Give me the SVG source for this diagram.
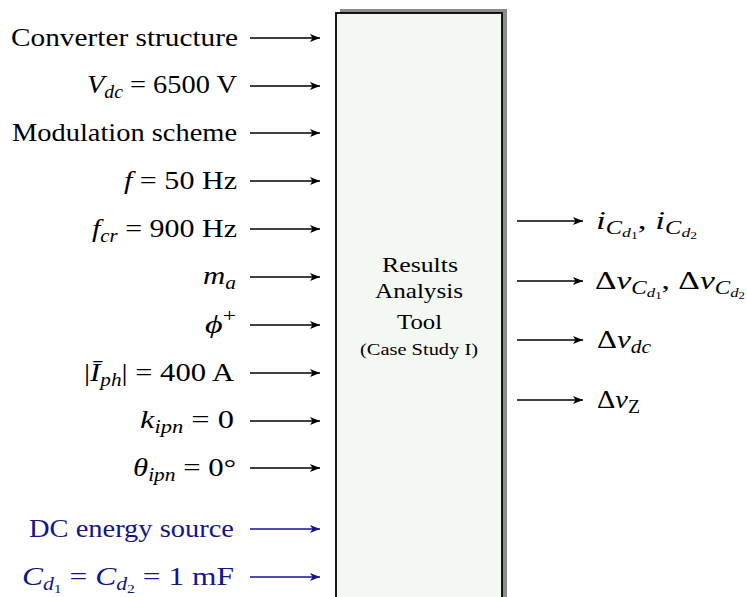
<svg xmlns="http://www.w3.org/2000/svg" width="747" height="597" viewBox="0 0 747 597">
<defs>
<marker id="ahk" viewBox="0 0 10 8" refX="10" refY="4" markerWidth="10" markerHeight="8" markerUnits="userSpaceOnUse" orient="auto">
<path d="M0,0 L10,4 L0,8 L2.5,4 Z" fill="#000"/>
</marker>
<marker id="ahb" viewBox="0 0 10 8" refX="10" refY="4" markerWidth="10" markerHeight="8" markerUnits="userSpaceOnUse" orient="auto">
<path d="M0,0 L10,4 L0,8 L2.5,4 Z" fill="#14148c"/>
</marker>
</defs>
<style>
text{font-family:"Liberation Serif","Times New Roman",serif;font-size:26px;fill:#000}
.blue{fill:#14148c}
.it{font-style:italic}
.s{font-size:18px}
.ss{font-size:13px}
.sss{font-size:10px}
.box{font-size:22px}
.small{font-size:16px}
.k{stroke:#000;stroke-width:1.5;fill:none;marker-end:url(#ahk)}
.b{stroke:#14148c;stroke-width:1.5;fill:none;marker-end:url(#ahb)}
</style>
<rect width="747" height="597" fill="#fff"/>

<g id="tool">
<rect x="340" y="9" width="167" height="600" fill="#8c8c8c"/>
<rect x="336" y="13" width="166" height="600" fill="#f3f8f2" stroke="#000" stroke-width="1.8"/>
<text class="box" x="382" y="272" textLength="76" lengthAdjust="spacingAndGlyphs">Results</text>
<text class="box" x="375" y="298" textLength="88" lengthAdjust="spacingAndGlyphs">Analysis</text>
<text class="box" x="397" y="329" textLength="45" lengthAdjust="spacingAndGlyphs">Tool</text>
<text class="small" x="360" y="355" textLength="118" lengthAdjust="spacingAndGlyphs">(Case Study I)</text>
</g>

<g id="connectors">
<path class="k" d="M250,38 H320"/>
<path class="k" d="M250,86 H320"/>
<path class="k" d="M250,133 H320"/>
<path class="k" d="M250,181 H320"/>
<path class="k" d="M250,229 H320"/>
<path class="k" d="M250,277 H320"/>
<path class="k" d="M250,325 H320"/>
<path class="k" d="M250,373 H320"/>
<path class="k" d="M250,421 H320"/>
<path class="k" d="M250,468 H320"/>
<path class="b" d="M250,529 H320"/>
<path class="b" d="M250,577 H320"/>
<path class="k" d="M517,221 H583"/>
<path class="k" d="M517,281 H583"/>
<path class="k" d="M517,340 H583"/>
<path class="k" d="M517,400 H583"/>
</g>

<g id="in-structure"><text x="11" y="46" textLength="227" lengthAdjust="spacingAndGlyphs">Converter structure</text></g>
<g id="in-vdc"><text x="87" y="93" textLength="150" lengthAdjust="spacingAndGlyphs"><tspan class="it">V</tspan><tspan class="s it" dy="5">dc</tspan><tspan dy="-5"> = 6500 V</tspan></text></g>
<g id="in-mod"><text x="12" y="141" textLength="225" lengthAdjust="spacingAndGlyphs">Modulation scheme</text></g>
<g id="in-f"><text x="124" y="189" textLength="113" lengthAdjust="spacingAndGlyphs"><tspan class="it">f</tspan> = 50 Hz</text></g>
<g id="in-fcr"><text x="92" y="237" textLength="145" lengthAdjust="spacingAndGlyphs"><tspan class="it">f</tspan><tspan class="s it" dy="5">cr</tspan><tspan dy="-5"> = 900 Hz</tspan></text></g>
<g id="in-ma"><text x="203" y="284" textLength="33" lengthAdjust="spacingAndGlyphs"><tspan class="it">m</tspan><tspan class="s it" dy="5">a</tspan></text></g>
<g id="in-phi"><text x="205" y="333" textLength="31" lengthAdjust="spacingAndGlyphs"><tspan class="it">ϕ</tspan><tspan class="s" dy="-11">+</tspan></text></g>
<g id="in-iph"><text x="84" y="381" textLength="150" lengthAdjust="spacingAndGlyphs">|<tspan class="it">Ī</tspan><tspan class="s it" dy="5">ph</tspan><tspan dy="-5">| = 400 A</tspan></text></g>
<g id="in-kipn"><text x="140" y="428" textLength="94" lengthAdjust="spacingAndGlyphs"><tspan class="it">k</tspan><tspan class="s it" dy="5">ipn</tspan><tspan dy="-5"> = 0</tspan></text></g>
<g id="in-theta"><text x="133" y="476" textLength="103" lengthAdjust="spacingAndGlyphs"><tspan class="it">θ</tspan><tspan class="s it" dy="5">ipn</tspan><tspan dy="-5"> = 0°</tspan></text></g>
<g id="in-dc"><text class="blue" x="29" y="537" textLength="205" lengthAdjust="spacingAndGlyphs">DC energy source</text></g>
<g id="in-cd"><text class="blue" x="22" y="585" textLength="212" lengthAdjust="spacingAndGlyphs"><tspan class="it">C</tspan><tspan class="s it" dy="5">d</tspan><tspan class="ss" dy="3">1</tspan><tspan dy="-8"> = </tspan><tspan class="it">C</tspan><tspan class="s it" dy="5">d</tspan><tspan class="ss" dy="3">2</tspan><tspan dy="-8"> = 1 mF</tspan></text></g>

<g id="out-icd"><text x="596" y="229" textLength="101" lengthAdjust="spacingAndGlyphs"><tspan class="it">i</tspan><tspan class="s it" dy="5">C</tspan><tspan class="ss it" dy="3">d</tspan><tspan class="sss" dy="2">1</tspan><tspan dy="-10">, </tspan><tspan class="it">i</tspan><tspan class="s it" dy="5">C</tspan><tspan class="ss it" dy="3">d</tspan><tspan class="sss" dy="2">2</tspan></text></g>
<g id="out-dvcd"><text x="595" y="289" textLength="150" lengthAdjust="spacingAndGlyphs">Δ<tspan class="it">v</tspan><tspan class="s it" dy="5">C</tspan><tspan class="ss it" dy="3">d</tspan><tspan class="sss" dy="2">1</tspan><tspan dy="-10">, Δ</tspan><tspan class="it">v</tspan><tspan class="s it" dy="5">C</tspan><tspan class="ss it" dy="3">d</tspan><tspan class="sss" dy="2">2</tspan></text></g>
<g id="out-dvdc"><text x="597" y="348" textLength="54" lengthAdjust="spacingAndGlyphs">Δ<tspan class="it">v</tspan><tspan class="s it" dy="5">dc</tspan></text></g>
<g id="out-dvz"><text x="597" y="408" textLength="43" lengthAdjust="spacingAndGlyphs">Δ<tspan class="it">v</tspan><tspan class="s" dy="5">Z</tspan></text></g>
</svg>
